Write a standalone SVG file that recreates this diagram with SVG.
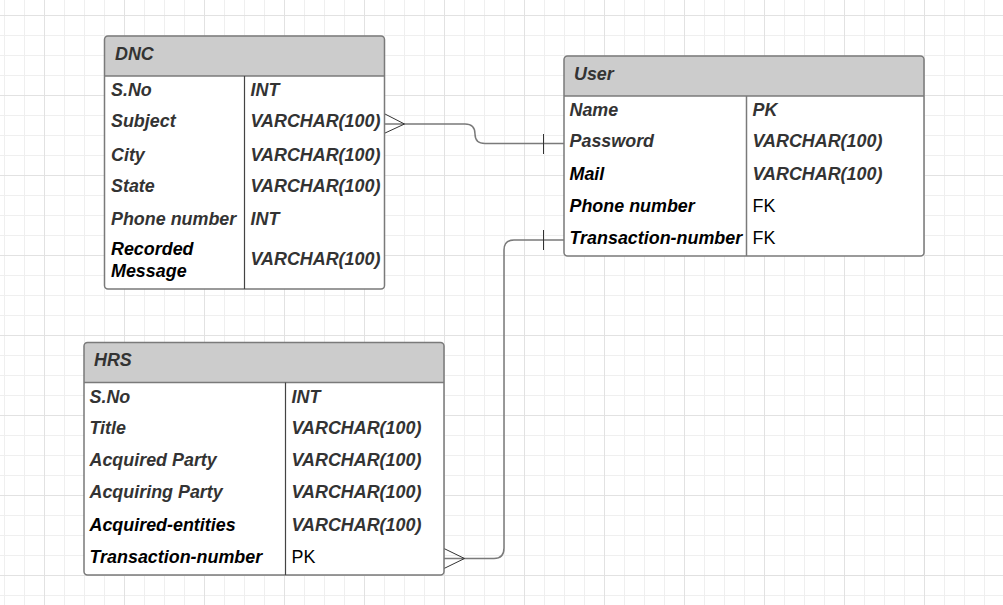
<svg xmlns="http://www.w3.org/2000/svg" width="1003" height="605" viewBox="0 0 1003 605">
<defs>
<pattern id="minor" width="20" height="20" x="4" y="15" patternUnits="userSpaceOnUse">
<path d="M0,0.5 H20 M0.5,0 V20" fill="none" stroke="#efefef" stroke-width="1"/>
</pattern>
<pattern id="major" width="80" height="80" x="44" y="15" patternUnits="userSpaceOnUse">
<path d="M0,0.5 H80 M0.5,0 V80" fill="none" stroke="#e2e2e2" stroke-width="1"/>
</pattern>
<style>
.box{fill:none;stroke:#7a7a7a;stroke-width:1.5}
.hdr{fill:#cccccc}
.sep{stroke:#7a7a7a;stroke-width:1.5}
.div{stroke:#444;stroke-width:1.2}
text{font-family:"Liberation Sans",Arial,sans-serif;font-size:17.9px}
.t{font-weight:bold;font-style:italic;fill:#333333}
.k{font-weight:bold;font-style:italic;fill:#000000}
.r{fill:#000000}
.ln{fill:none;stroke:#7a7a7a;stroke-width:1.5}
.cf{fill:none;stroke:#333;stroke-width:1}
</style>
</defs>
<rect width="1003" height="605" fill="#ffffff"/>
<rect width="1003" height="605" fill="url(#minor)"/>
<rect width="1003" height="605" fill="url(#major)"/>

<g id="connectors">
<path class="ln" d="M384,124 H465 Q475,124 475,134 Q475,143.5 485,143.5 H564"/>
<path class="cf" d="M384,113.5 L404.5,124 L384,133.5"/>
<path class="cf" d="M543.5,134 V154"/>
<path class="ln" d="M564,240 H514 Q504,240 504,250 V548 Q504,558.5 494,558.5 H444"/>
<path class="cf" d="M444,548.5 L464.5,558.5 L444,568.5"/>
<path class="cf" d="M543.5,230 V250"/>
</g>

<g id="DNC">
<rect x="104.5" y="36" width="280" height="253" rx="3.5" fill="#ffffff"/>
<path class="hdr" d="M108,36 H381 Q384.5,36 384.5,39.5 V76 H104.5 V39.5 Q104.5,36 108,36 Z"/>
<rect class="box" x="104.5" y="36" width="280" height="253" rx="3.5"/>
<line class="sep" x1="104.5" y1="76" x2="384.5" y2="76"/>
<line class="div" x1="244.5" y1="76" x2="244.5" y2="289"/>
<text class="t" x="115" y="60">DNC</text>
<text class="t" x="111" y="95.7">S.No</text>
<text class="t" x="250.5" y="95.7">INT</text>
<text class="t" x="111" y="127">Subject</text>
<text class="t" x="250.5" y="127">VARCHAR(100)</text>
<text class="t" x="111" y="160.7">City</text>
<text class="t" x="250.5" y="160.7">VARCHAR(100)</text>
<text class="t" x="111" y="191.7">State</text>
<text class="t" x="250.5" y="191.7">VARCHAR(100)</text>
<text class="t" x="111" y="225">Phone number</text>
<text class="t" x="250.5" y="225">INT</text>
<text class="k" x="111" y="255">Recorded</text>
<text class="k" x="111" y="276.7">Message</text>
<text class="t" x="250.5" y="265">VARCHAR(100)</text>
</g>

<g id="User">
<rect x="564" y="56" width="360" height="200" rx="3.5" fill="#ffffff"/>
<path class="hdr" d="M567.5,56 H920.5 Q924,56 924,59.5 V96 H564 V59.5 Q564,56 567.5,56 Z"/>
<rect class="box" x="564" y="56" width="360" height="200" rx="3.5"/>
<line class="sep" x1="564" y1="96" x2="924" y2="96"/>
<line class="sep" x1="746.5" y1="96" x2="746.5" y2="256"/>
<text class="t" x="574" y="79.5">User</text>
<text class="t" x="569.5" y="115.7">Name</text>
<text class="t" x="752.5" y="115.7">PK</text>
<text class="t" x="569.5" y="147.3">Password</text>
<text class="t" x="752.5" y="147.3">VARCHAR(100)</text>
<text class="k" x="569.5" y="179.7">Mail</text>
<text class="t" x="752.5" y="179.7">VARCHAR(100)</text>
<text class="k" x="569.5" y="211.7">Phone number</text>
<text class="r" x="752.5" y="211.7">FK</text>
<text class="k" x="569.5" y="244">Transaction-number</text>
<text class="r" x="752.5" y="244">FK</text>
</g>

<g id="HRS">
<rect x="84" y="342.5" width="360" height="232.5" rx="3.5" fill="#ffffff"/>
<path class="hdr" d="M87.5,342.5 H440.5 Q444,342.5 444,346 V382.5 H84 V346 Q84,342.5 87.5,342.5 Z"/>
<rect class="box" x="84" y="342.5" width="360" height="232.5" rx="3.5"/>
<line class="sep" x1="84" y1="382.5" x2="444" y2="382.5"/>
<line class="div" x1="285.5" y1="382.5" x2="285.5" y2="575"/>
<text class="t" x="94" y="365.7">HRS</text>
<text class="t" x="89.5" y="402.7">S.No</text>
<text class="t" x="291.5" y="402.7">INT</text>
<text class="t" x="89.5" y="434.3">Title</text>
<text class="t" x="291.5" y="434.3">VARCHAR(100)</text>
<text class="t" x="89.5" y="466">Acquired Party</text>
<text class="t" x="291.5" y="466">VARCHAR(100)</text>
<text class="t" x="89.5" y="498">Acquiring Party</text>
<text class="t" x="291.5" y="498">VARCHAR(100)</text>
<text class="k" x="89.5" y="530.7">Acquired-entities</text>
<text class="t" x="291.5" y="530.7">VARCHAR(100)</text>
<text class="k" x="89.5" y="562.7">Transaction-number</text>
<text class="r" x="291.5" y="562.7">PK</text>
</g>
</svg>
